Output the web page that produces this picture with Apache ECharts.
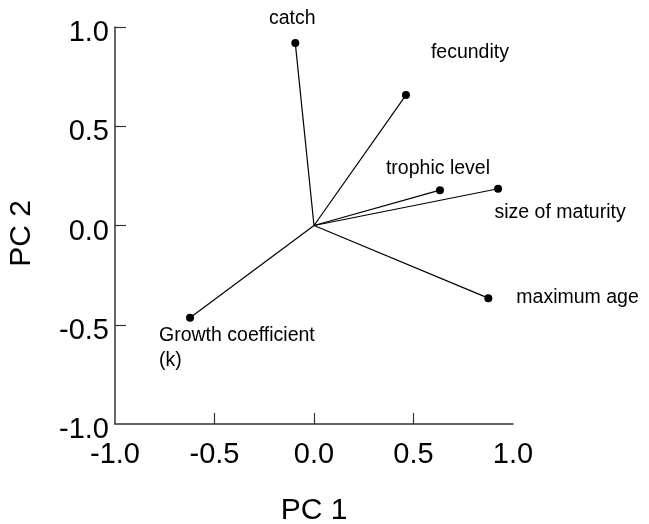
<!DOCTYPE html>
<html>
<head>
<meta charset="utf-8">
<script src="https://cdn.jsdelivr.net/npm/echarts@6/dist/echarts.min.js"></script>
<style>html,body{margin:0;padding:0;background:#fff}#c{width:649px;height:524px}</style>
</head>
<body>
<div id="c"></div>
<script>
// Data
var variables = ['catch', 'fecundity', 'trophic level', 'size of maturity', 'maximum age', 'Growth coefficient\n(k)'];
var pc1 = [-0.094, 0.462, 0.633, 0.925, 0.876, -0.623];
var pc2 = [0.919, 0.657, 0.178, 0.185, -0.366, -0.465];
var tickValues = [-1.0, -0.5, 0.0, 0.5, 1.0];

// Label placement (style, not data)
var labelStyle = {
  'catch': {offset: [-3, -24], align: 'center', verticalAlign: 'middle'},
  'fecundity': {offset: [64, -42], align: 'center', verticalAlign: 'middle'},
  'trophic level': {offset: [-2, -22], align: 'center', verticalAlign: 'middle'},
  'size of maturity': {offset: [62, 24], align: 'center', verticalAlign: 'middle'},
  'maximum age': {offset: [28, -1], align: 'left', verticalAlign: 'middle'},
  'Growth coefficient\n(k)': {offset: [-31, 5], align: 'left', verticalAlign: 'top'}
};

var FONT = 'Liberation Sans, Arial, Helvetica, sans-serif';
var series = [];
variables.forEach(function (v, i) {
  series.push({
    type: 'line',
    data: [[0, 0], [pc1[i], pc2[i]]],
    symbol: 'none',
    silent: true,
    lineStyle: {color: '#000', width: 1.2},
    z: 2
  });
});
series.push({
  type: 'scatter',
  symbolSize: 8,
  itemStyle: {color: '#000', opacity: 1},
  z: 3,
  data: variables.map(function (v, i) {
    var ls = labelStyle[v];
    return {
      name: v,
      value: [pc1[i], pc2[i]],
      label: {
        show: true,
        position: 'inside',
        formatter: v,
        offset: ls.offset,
        align: ls.align,
        verticalAlign: ls.verticalAlign,
        color: '#000',
        fontSize: 19.5,
        lineHeight: 25,
        fontFamily: FONT
      }
    };
  })
});

var axisCommon = {
  type: 'value',
  min: -1,
  max: 1,
  interval: 0.5,
  splitLine: {show: false},
  axisLine: {show: true, onZero: false, lineStyle: {color: '#333', width: 1.5}},
  axisTick: {show: true, inside: true, length: 11, customValues: [-0.5, 0, 0.5], lineStyle: {color: '#333', width: 1.2}},
  nameLocation: 'middle',
  nameTextStyle: {color: '#000', fontSize: 30, fontFamily: FONT}
};

var chart = echarts.init(document.getElementById('c'), null, {renderer: 'canvas'});
chart.setOption({
  animation: false,
  backgroundColor: '#fff',
  grid: {left: 115, right: 136, top: 27, bottom: 100, containLabel: false, outerBoundsMode: 'none'},
  xAxis: Object.assign({}, axisCommon, {
    name: 'PC 1',
    nameGap: 72,
    axisLabel: {customValues: tickValues, formatter: function (v) { return v.toFixed(1); }, color: '#000', fontSize: 29, fontFamily: FONT, margin: 16}
  }),
  yAxis: Object.assign({}, axisCommon, {
    name: 'PC 2',
    nameGap: 78,
    nameTextStyle: {color: '#000', fontSize: 30, fontFamily: FONT, padding: [0, 16, 0, 0]},
    axisTick: Object.assign({}, axisCommon.axisTick, {customValues: [-0.5, 0, 0.5, 1]}),
    axisLabel: {
      customValues: tickValues,
      formatter: function (v) { return '{t|' + v.toFixed(1) + '}'; },
      margin: 6,
      rich: {t: {color: '#000', fontSize: 29, fontFamily: FONT, padding: [12, 0, 0, 0]}}
    }
  }),
  series: series
});
</script>
</body>
</html>
